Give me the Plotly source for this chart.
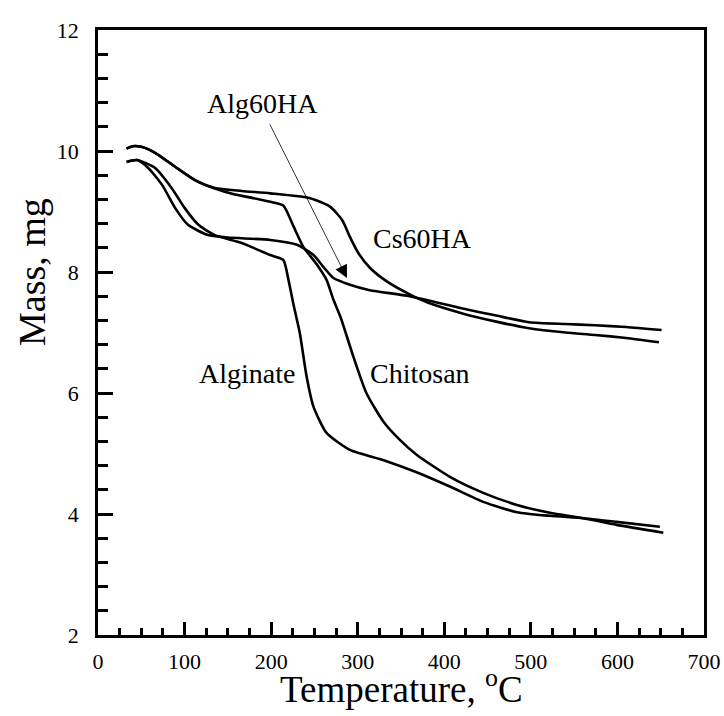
import plotly.graph_objects as go

# Cs60HA
t_cs60ha = [33, 40, 50, 66, 89, 112, 135, 166, 199, 245, 268, 282, 291, 300, 314, 334, 360, 380, 420, 460, 498, 540, 574, 610, 648]
m_cs60ha = [10.04, 10.08, 10.07, 9.97, 9.74, 9.52, 9.39, 9.34, 9.30, 9.22, 9.08, 8.86, 8.58, 8.33, 8.07, 7.84, 7.63, 7.50, 7.32, 7.18, 7.07, 7.00, 6.96, 6.91, 6.84]

# Chitosan
t_chitosan = [33, 40, 50, 66, 89, 112, 135, 156, 180, 199, 214, 226, 237, 253, 264, 272, 280, 295, 310, 330, 349, 368, 407, 445, 484, 522, 561, 599, 653]
m_chitosan = [10.04, 10.08, 10.07, 9.97, 9.74, 9.52, 9.38, 9.29, 9.22, 9.16, 9.10, 8.75, 8.42, 8.12, 7.87, 7.54, 7.26, 6.60, 6.00, 5.52, 5.22, 4.98, 4.61, 4.35, 4.15, 4.02, 3.93, 3.82, 3.69]

# Alg60HA
t_alg60ha = [33, 45, 58, 74, 89, 104, 127, 150, 199, 230, 249, 260, 272, 291, 314, 360, 420, 460, 498, 540, 574, 610, 651]
m_alg60ha = [9.82, 9.85, 9.72, 9.44, 9.06, 8.78, 8.61, 8.57, 8.53, 8.45, 8.28, 8.09, 7.90, 7.79, 7.70, 7.60, 7.40, 7.28, 7.17, 7.14, 7.12, 7.09, 7.04]

# Alginate
t_alginate = [33, 45, 66, 85, 100, 116, 135, 166, 199, 214, 220, 226, 233, 241, 249, 264, 291, 330, 368, 407, 445, 484, 522, 561, 599, 649]
m_alginate = [9.82, 9.85, 9.72, 9.39, 9.06, 8.78, 8.61, 8.48, 8.28, 8.20, 7.87, 7.45, 7.00, 6.27, 5.77, 5.34, 5.06, 4.89, 4.69, 4.45, 4.20, 4.03, 3.97, 3.93, 3.87, 3.79]

x_ticks = [0, 100, 200, 300, 400, 500, 600, 700]
y_ticks = [2, 4, 6, 8, 10, 12]

FONT = "Liberation Serif"

fig = go.Figure()
for name, t, m in [("Cs60HA", t_cs60ha, m_cs60ha), ("Chitosan", t_chitosan, m_chitosan),
                   ("Alg60HA", t_alg60ha, m_alg60ha), ("Alginate", t_alginate, m_alginate)]:
    fig.add_trace(go.Scatter(x=t, y=m, mode="lines", name=name,
                             line=dict(color="black", width=2.6, shape="spline", smoothing=0.6)))

ann_font = dict(family=FONT, size=28, color="black")
fig.add_annotation(x=190, y=10.79, text="Alg60HA", showarrow=False, font=ann_font, xref="x", yref="y")
fig.add_annotation(x=287.6, y=7.90, ax=195, ay=10.54, axref="x", ayref="y", xref="x", yref="y",
                   text=" ", font=dict(family=FONT, size=10, color="black"),
                   showarrow=True, arrowhead=2, arrowsize=3.2, arrowwidth=0.8, arrowcolor="black")
fig.add_annotation(x=375, y=8.56, text="Cs60HA", showarrow=False, font=ann_font)
fig.add_annotation(x=172, y=6.33, text="Alginate", showarrow=False, font=ann_font)
fig.add_annotation(x=372, y=6.33, text="Chitosan", showarrow=False, font=ann_font)

# axis titles
fig.add_annotation(x=0.5, y=-0.085, xref="paper", yref="paper", yanchor="middle",
                   text="Temperature, <sup>o</sup>C", showarrow=False,
                   font=dict(family=FONT, size=37, color="black"))
fig.add_annotation(x=-0.109, y=0.6, xref="paper", yref="paper", xanchor="center", yanchor="middle",
                   text="Mass, mg", textangle=-90, showarrow=False,
                   font=dict(family=FONT, size=38, color="black"))

axis_common = dict(showline=True, linecolor="black", linewidth=2.5, mirror=True, automargin=False,
                   ticks="inside", tickcolor="black", tickwidth=2.5, showgrid=False, zeroline=False,
                   tickfont=dict(family=FONT, size=22, color="black"))

fig.update_xaxes(range=[0, 700], tickvals=x_ticks, ticklen=13, ticklabelstandoff=5,
                 minor=dict(dtick=25, ticklen=7, ticks="inside", tickcolor="black", tickwidth=2.5),
                 **axis_common)
fig.update_yaxes(range=[2, 12], tickvals=y_ticks, ticklen=15, ticklabelstandoff=12,
                 minor=dict(dtick=0.4, ticklen=10, ticks="inside", tickcolor="black", tickwidth=2.5),
                 **axis_common)

fig.update_layout(width=724, height=716, margin=dict(l=98, r=20, t=30, b=81),
                  font=dict(family=FONT, color="black"),
                  plot_bgcolor="white", paper_bgcolor="white", showlegend=False)

fig.write_html("out.html", config={"displayModeBar": False},
               post_script="document.body.style.margin='0';document.body.style.overflow='hidden';")
